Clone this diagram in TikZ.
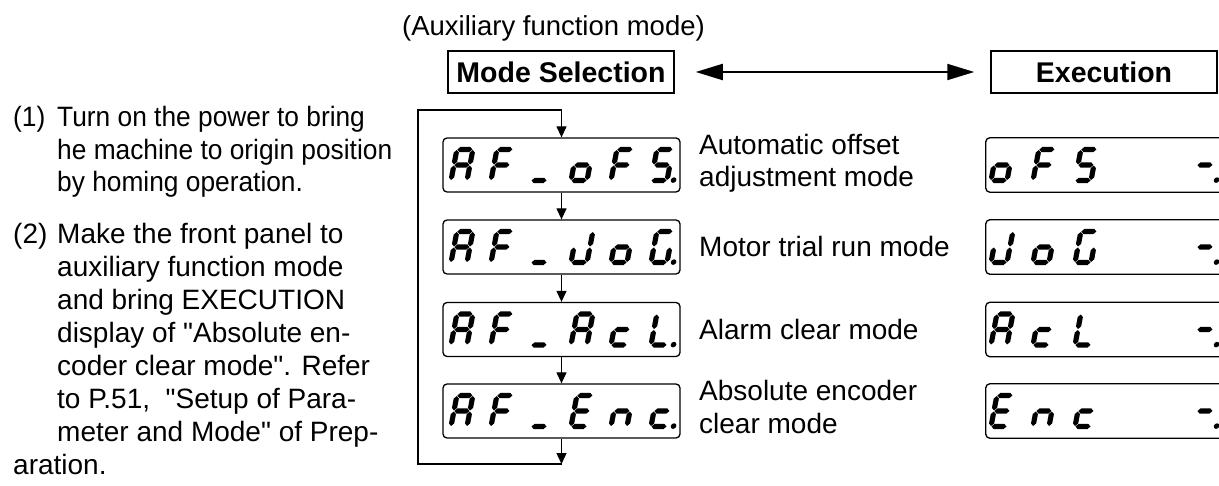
\documentclass[tikz,border=0pt]{standalone}
\usepackage{fontspec}
\setmainfont{Liberation Sans}[Ligatures=TeXOff]
\newfontfamily\narrowfont{Liberation Sans}[FakeStretch=0.94,Ligatures=TeXOff]
\usetikzlibrary{arrows.meta}
% seven-segment helpers (local units: w=16, h=31)
\newcommand\segH[3]{\fill (#1+0.5,#3) -- (#1+3.1,#3+2.6) -- (#2-3.1,#3+2.6) -- (#2-0.5,#3) -- (#2-3.1,#3-2.6) -- (#1+3.1,#3-2.6) -- cycle;}
\newcommand\segV[3]{\fill (#1,#2+0.5) -- (#1+2.6,#2+3.1) -- (#1+2.6,#3-3.1) -- (#1,#3-0.5) -- (#1-2.6,#3-3.1) -- (#1-2.6,#2+3.1) -- cycle;}
\newcommand\segA{\segH{0}{16}{31}}
\newcommand\segB{\segV{16}{15.5}{31}}
\newcommand\segC{\segV{16}{0}{15.5}}
\newcommand\segD{\segH{0}{16}{0}}
\newcommand\segE{\segV{0}{0}{15.5}}
\newcommand\segF{\segV{0}{15.5}{31}}
\newcommand\segG{\segH{0}{16}{15.5}}
\newcommand\segP{\fill (22.5,0.4) circle (2.8);}
\newcommand\chA{\segA\segB\segC\segE\segF\segG}
\newcommand\chF{\segA\segE\segF\segG}
\newcommand\chU{\segD}
\newcommand\cho{\segC\segD\segE\segG}
\newcommand\chS{\segA\segF\segG\segC\segD}
\newcommand\chd{\segB\segC\segD\segE}
\newcommand\chG{\segA\segC\segD\segE\segF}
\newcommand\chc{\segD\segE\segG}
\newcommand\chL{\segD\segE\segF}
\newcommand\chE{\segA\segD\segE\segF\segG}
\newcommand\chn{\segC\segE\segG}
\newcommand\dig[3]{\begin{scope}[shift={(#1,#2)},xslant=0.19]#3\end{scope}}
\newcommand\selrow[7]{\dig{451}{#1}{#2}\dig{491}{#1}{#3}\dig{531}{#1}{#4}\dig{571}{#1}{#5}\dig{611}{#1}{#6}\dig{651}{#1}{#7}}
\newcommand\exrow[4]{\dig{991}{#1}{#2}\dig{1033}{#1}{#3}\dig{1075}{#1}{#4}\dig{1194}{#1}{\segG\segP}}
\tikzset{
  disp/.style={draw, line width=1.3pt, rounded corners=4pt, minimum width=237pt, minimum height=54pt, inner sep=0pt},
  exdisp/.style={minimum width=234pt, minimum height=54pt, inner sep=0pt},
  exline/.style={draw, line width=1.3pt, rounded corners=4pt},
  headbox/.style={draw, line width=1.5pt, minimum width=226pt, minimum height=42pt, inner sep=0pt, font=\fontsize{28.5}{34}\selectfont\bfseries},
  body/.style={anchor=base west, inner sep=0pt, font=\fontsize{28}{33}\selectfont},
  nbody/.style={anchor=base west, inner sep=0pt, font=\fontsize{28}{33}\narrowfont},
  flow/.style={line width=1.3pt, -{Triangle[length=11pt,width=10pt]}},
  loopline/.style={line width=1.3pt},
  bigarrow/.style={line width=2pt, {Triangle[length=27pt,width=16pt]}-{Triangle[length=27pt,width=16pt]}}
}
\begin{document}
\begin{tikzpicture}[x=1pt,y=1pt]
\useasboundingbox[fill=white] (0,0) rectangle (1219,-486);
% header
\node[body, font=\fontsize{27.5}{32}\selectfont] (aux) at (402,-36) {(Auxiliary function mode)};
\node[headbox] (ms) at (561,-72) {Mode Selection};
\node[headbox] (ex) at (1104,-72) {Execution};
\draw[bigarrow, shorten <=21pt, shorten >=16pt] (ms.east) -- (ex.west);
% left text, item 1
\node[nbody] (n1) at (13,-127) {(1)};
\node[nbody] (l1a) at (57,-127) {Turn on the power to bring};
\node[nbody] (l1b) at (57,-160) {he machine to origin position};
\node[nbody] (l1c) at (57,-192) {by homing operation.};
% item 2
\node[body] (n2) at (13,-244) {(2)};
\node[body] (l2a) at (57,-244) {Make the front panel to};
\node[body] (l2b) at (57,-277) {auxiliary function mode};
\node[body] (l2c) at (57,-310) {and bring EXECUTION};
\node[body] (l2d) at (57,-343) {display of "Absolute en-};
\node[body] (l2e) at (57,-376) {coder clear mode". Refer};
\node[body] (l2f) at (57,-409) {to P.51,\ \ "Setup of Para-};
\node[body] (l2g) at (57,-442) {meter and Mode" of Prep-};
\node[body] (l2h) at (13,-475) {aration.};
% selection displays
\node[disp] (s1) at (561.5,-165) {};
\node[disp] (s2) at (561.5,-247) {};
\node[disp] (s3) at (561.5,-329.5) {};
\node[disp] (s4) at (561.5,-411) {};
\selrow{-180.5}{\chA}{\chF}{\chU}{\cho}{\chF}{\chS\segP}
\selrow{-262.5}{\chA}{\chF}{\chU}{\chd}{\cho}{\chG\segP}
\selrow{-345}{\chA}{\chF}{\chU}{\chA}{\chc}{\chL\segP}
\selrow{-426.5}{\chA}{\chF}{\chU}{\chE}{\chn}{\chc\segP}
% loop connectors
\coordinate (tl) at (418,-110);
\coordinate (tr) at (561.5,-110);
\coordinate (bl) at (418,-464);
\coordinate (br) at (561.5,-464);
\draw[flow] (tr) -- (s1.north);
\draw[flow] (s1.south) -- (s2.north);
\draw[flow] (s2.south) -- (s3.north);
\draw[flow] (s3.south) -- (s4.north);
\draw[flow] (s4.south) -- (br);
\draw[loopline] (br) -- (bl) -- (tl) -- (tr);
% descriptions
\node[body] (d1a) at (699,-155) {Automatic offset};
\node[body] (d1b) at (699,-187) {adjustment mode};
\node[body] (d2) at (699,-257) {Motor trial run mode};
\node[body] (d3) at (699,-340) {Alarm clear mode};
\node[body] (d4a) at (699,-401) {Absolute encoder};
\node[body] (d4b) at (699,-433) {clear mode};
% execution displays
\node[exdisp] (e1) at (1103,-165) {};
\node[exdisp] (e2) at (1103,-247) {};
\node[exdisp] (e3) at (1103,-329.5) {};
\node[exdisp] (e4) at (1103,-411) {};
\foreach \e in {e1,e2,e3,e4}{
  \draw[exline] ([xshift=8pt]\e.north east) -- (\e.north west) -- (\e.south west) -- ([xshift=8pt]\e.south east);
}
\exrow{-180.5}{\cho}{\chF}{\chS}
\exrow{-262.5}{\chd}{\cho}{\chG}
\exrow{-345}{\chA}{\chc}{\chL}
\exrow{-426.5}{\chE}{\chn}{\chc}
\end{tikzpicture}
\end{document}
